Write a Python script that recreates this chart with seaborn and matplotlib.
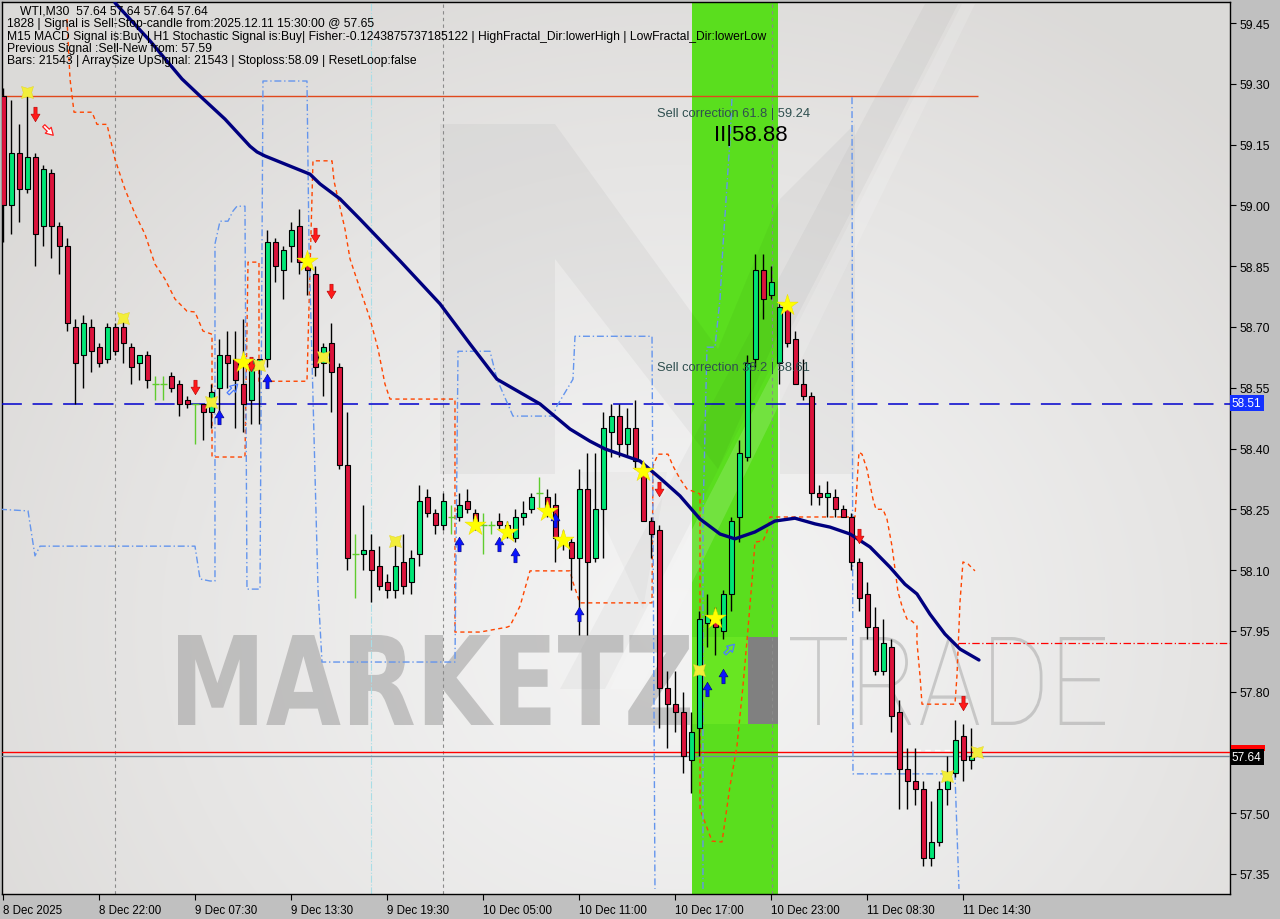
import numpy as np
import pandas as pd
import matplotlib
matplotlib.use("Agg")
import matplotlib.pyplot as plt
import seaborn as sns
from matplotlib.path import Path
from matplotlib.patches import Rectangle, Polygon, PathPatch
from matplotlib.textpath import TextPath
from matplotlib.font_manager import FontProperties
import matplotlib.transforms as mtransforms

# ---------------- data ----------------
opens = [59.27,59.00,59.13,59.04,59.12,58.95,59.08,58.95,58.90,58.70,
         58.63,58.70,58.65,58.62,58.70,58.70,58.65,58.61,58.63,58.56,
         58.56,58.58,58.56,58.52,58.51,58.51,58.49,58.55,58.63,58.62,
         58.56,58.52,58.61,58.62,58.91,58.84,58.90,58.95,58.86,58.83,
         58.61,58.66,58.60,58.36,58.14,58.14,58.15,58.11,58.07,58.05,
         58.12,58.07,58.14,58.28,58.24,58.21,58.23,58.23,58.27,58.24,
         58.21,58.21,58.22,58.21,58.18,58.23,58.25,58.29,58.28,58.26,
         58.18,58.17,58.13,58.30,58.13,58.25,58.44,58.48,58.41,58.45,
         58.35,58.22,58.20,57.81,57.77,57.75,57.63,57.71,57.97,57.98,
         57.95,58.04,58.23,58.38,58.62,58.84,58.78,58.61,58.75,58.67,
         58.56,58.53,58.29,58.28,58.28,58.25,58.23,58.12,58.04,57.96,
         57.85,57.91,57.75,57.61,57.58,57.56,57.39,57.43,57.56,57.60,
         57.69,57.63]
highs = [59.29,59.26,59.20,59.27,59.13,59.10,59.09,58.96,58.92,58.72,
         58.73,58.72,58.66,58.71,58.71,58.72,58.66,58.63,58.64,58.58,
         58.58,58.59,58.57,58.53,58.51,58.51,58.56,58.67,58.69,58.69,
         58.72,58.62,58.62,58.94,58.92,58.90,58.96,58.99,58.87,58.85,
         58.66,58.71,58.61,58.49,58.19,58.26,58.19,58.16,58.09,58.17,
         58.19,58.15,58.31,58.30,58.25,58.29,58.26,58.29,58.30,58.25,
         58.24,58.22,58.24,58.22,58.25,58.27,58.29,58.33,58.30,58.29,
         58.20,58.18,58.35,58.39,58.39,58.49,58.51,58.51,58.50,58.52,
         58.36,58.23,58.21,57.85,57.85,57.80,57.75,58.00,58.04,58.01,
         58.05,58.23,58.42,58.63,58.88,58.88,58.85,58.76,58.77,58.69,
         58.62,58.54,58.31,58.32,58.30,58.26,58.24,58.13,58.07,58.01,
         57.98,57.93,57.78,57.66,57.66,57.58,57.53,57.58,57.64,57.73,
         57.72,57.71]
lows = [58.91,58.93,58.96,59.03,58.85,58.90,58.87,58.83,58.69,58.51,
        58.55,58.59,58.60,58.61,58.63,58.61,58.56,58.57,58.55,58.52,
        58.52,58.54,58.48,58.50,58.41,58.42,58.45,58.48,58.55,58.45,
        58.44,58.46,58.46,58.60,58.81,58.77,58.86,58.83,58.78,58.58,
        58.53,58.49,58.35,58.10,58.03,58.10,58.02,58.05,58.03,58.03,
        58.04,58.04,58.11,58.23,58.19,58.20,58.19,58.22,58.24,58.20,
        58.14,58.19,58.20,58.18,58.17,58.21,58.24,58.25,58.23,58.12,
        58.15,58.05,57.94,57.94,58.12,58.13,58.38,58.38,58.38,58.35,
        58.22,58.13,57.71,57.66,57.70,57.60,57.55,57.64,57.91,57.89,
        57.93,58.00,58.17,58.37,58.60,58.72,58.77,58.56,58.65,58.56,
        58.52,58.26,58.26,58.23,58.23,58.23,58.10,58.00,57.93,57.84,
        57.84,57.70,57.51,57.51,57.52,57.37,57.37,57.42,57.52,57.59,
        57.58,57.61]
closes = [59.00,59.13,59.04,59.12,58.93,59.09,58.95,58.90,58.71,58.61,
          58.71,58.64,58.61,58.70,58.64,58.66,58.60,58.63,58.57,58.56,
          58.56,58.55,58.51,58.51,58.51,58.49,58.54,58.63,58.61,58.57,
          58.51,58.62,58.62,58.91,58.85,58.89,58.94,58.86,58.84,58.60,
          58.65,58.59,58.36,58.13,58.14,58.15,58.10,58.06,58.05,58.11,
          58.06,58.13,58.27,58.24,58.21,58.27,58.23,58.26,58.25,58.22,
          58.21,58.21,58.21,58.19,58.23,58.24,58.28,58.29,58.24,58.18,
          58.17,58.13,58.30,58.12,58.25,58.45,58.48,58.41,58.45,58.37,
          58.22,58.19,57.81,57.77,57.75,57.64,57.70,57.98,57.99,57.96,
          58.04,58.22,58.39,58.61,58.84,58.77,58.81,58.75,58.66,58.56,
          58.53,58.29,58.28,58.29,58.25,58.23,58.12,58.03,57.96,57.85,
          57.92,57.74,57.61,57.58,57.56,57.39,57.43,57.56,57.59,57.68,
          57.63,57.64]

time_labels = ["8 Dec 2025", "8 Dec 22:00", "9 Dec 07:30", "9 Dec 13:30", "9 Dec 19:30",
               "10 Dec 05:00", "10 Dec 11:00", "10 Dec 17:00", "10 Dec 23:00",
               "11 Dec 08:30", "11 Dec 14:30"]
time_label_bars = [0, 12, 24, 36, 48, 60, 72, 84, 96, 108, 120]
price_ticks = [57.35, 57.50, 57.65, 57.80, 57.95, 58.10, 58.25, 58.40, 58.55,
               58.70, 58.85, 59.00, 59.15, 59.30, 59.45]

ma_bars = [13.96, 18.34, 22.34, 24.59, 27.71, 30.84, 31.71, 32.71, 35.84, 38.34, 39.59,
           42.09, 44.59, 49.59, 54.59, 58.34, 61.71, 67.09, 70.84, 73.34, 75.21, 79.59,
           82.09, 84.59, 87.09, 89.59, 91.46, 93.96, 96.46, 98.96, 101.46, 103.34, 105.84,
           108.34, 110.84, 112.71, 114.21, 115.84, 117.71, 119.59, 121.96]
ma_vals = [59.50, 59.406, 59.312, 59.27, 59.213, 59.146, 59.132, 59.122, 59.097, 59.077, 59.053,
           59.016, 58.966, 58.863, 58.757, 58.658, 58.571, 58.51, 58.448, 58.418, 58.399, 58.369,
           58.327, 58.283, 58.226, 58.189, 58.177, 58.194, 58.221, 58.228, 58.214, 58.206, 58.189,
           58.157, 58.107, 58.065, 58.041, 57.991, 57.942, 57.905, 57.878]

upper_bars = [7.96, 8.34, 8.84, 11.09, 11.71, 12.96, 13.96, 15.21, 16.46, 17.71, 18.96, 20.21,
              21.46, 22.96, 23.96, 24.96, 26.09, 26.09, 30.21, 30.59, 31.96, 31.96, 37.96, 38.71,
              41.09, 41.34, 42.71, 43.34, 44.59, 45.84, 46.84, 47.71, 48.34, 56.46, 56.46, 59.59,
              62.96, 63.34, 64.59, 65.84, 70.84, 71.21, 71.84, 72.09, 81.09, 81.21, 81.84, 83.09,
              83.71, 84.59, 85.46, 87.09, 87.09, 88.59, 89.84, 90.84, 91.71, 92.46, 93.09, 93.71,
              93.96, 94.96, 95.46, 95.84, 106.46, 106.96, 107.34, 107.96, 108.71, 109.09, 109.96,
              110.46, 111.09, 111.84, 112.34, 112.96, 113.59, 114.21, 114.21, 114.59, 114.84,
              118.96, 119.21, 119.59, 119.96, 120.59, 121.46]
upper_vals = [59.46, 59.312, 59.23, 59.23, 59.20, 59.20, 59.114, 59.04, 58.979, 58.929, 58.855,
              58.818, 58.769, 58.739, 58.737, 58.69, 58.682, 58.379, 58.379, 58.86, 58.86, 58.566,
              58.566, 59.11, 59.11, 59.06, 58.942, 58.868, 58.794, 58.72, 58.646, 58.559, 58.522,
              58.522, 57.947, 57.947, 57.959, 57.962, 58.011, 58.098, 58.098, 58.07, 58.033, 58.019,
              58.019, 58.357, 58.386, 58.386, 58.357, 58.325, 58.30, 58.288, 57.51, 57.431, 57.429,
              57.567, 57.666, 57.814, 57.955, 58.103, 58.169, 58.172, 58.194, 58.231, 58.231, 58.391,
              58.386, 58.349, 58.275, 58.25, 58.25, 58.226, 58.159, 58.046, 58.011, 57.979, 57.974,
              57.962, 57.922, 57.839, 57.769, 57.769, 57.839, 58.021, 58.12, 58.115, 58.098]

lower1_bars = [-0.41, 3.09, 3.96, 4.59, 23.96, 24.59, 25.84, 26.46, 26.46, 27.09, 28.09, 28.71,
               29.21, 30.21, 30.46, 32.09, 32.46, 37.96, 38.21, 39.34, 39.84, 56.46, 56.84, 60.84,
               61.71, 63.71, 68.71, 69.21, 71.21, 71.46, 81.09, 81.46]
lower1_vals = [58.25, 58.246, 58.135, 58.159, 58.159, 58.078, 58.073, 58.073, 58.905, 58.961,
               58.961, 58.986, 58.998, 58.998, 58.053, 58.053, 59.307, 59.307, 58.905, 58.053,
               57.873, 57.873, 58.64, 58.64, 58.571, 58.48, 58.48, 58.505, 58.571, 58.677, 58.677,
               57.313]
lower2_bars = [87.46, 87.46, 87.96, 88.96, 89.59, 89.96, 90.46, 90.84, 91.09]
lower2_vals = [57.313, 58.226, 58.65, 58.65, 58.769, 58.90, 59.048, 59.164, 59.267]
lower3_bars = [106.09, 106.21, 118.96, 119.46]
lower3_vals = [59.267, 57.597, 57.597, 57.313]

sell_arrow_bars = [4, 24, 31, 39, 41, 82, 107, 120]
sell_arrow_prices = [59.225, 58.552, 58.608, 58.927, 58.789, 58.30, 58.184, 57.772]
buy_arrow_bars = [27, 33, 57, 62, 64, 69, 72, 88, 90]
buy_arrow_prices = [58.478, 58.567, 58.164, 58.164, 58.137, 58.223, 57.991, 57.806, 57.838]
star_bars = [30, 38, 59, 63, 68, 70, 80, 89, 98]
star_prices = [58.613, 58.863, 58.211, 58.194, 58.246, 58.174, 58.344, 57.982, 58.754]
cross_bars = [3, 15, 26, 32, 40, 49, 87, 118, 121.7]
cross_prices = [59.28, 58.722, 58.515, 58.606, 58.626, 58.172, 57.853, 57.592, 57.651]
hollow_sell_bars = [5.6]
hollow_sell_prices = [59.186]
hollow_buy_bars = [28.7, 90.8]
hollow_buy_prices = [58.547, 57.905]

level_bid = 57.64
level_signal = 57.65
level_blue = 58.51
level_top = 59.27
level_stop = 57.92
band_start, band_end = 86.1, 96.8
separator_bars = [13.96, 54.96, 96.09]
event_bar = 46.0

header_lines = [
    "WTI,M30  57.64 57.64 57.64 57.64",
    "1828 | Signal is Sell-Stop-candle from:2025.12.11 15:30:00 @ 57.65",
    "M15 MACD Signal is:Buy | H1 Stochastic Signal is:Buy| Fisher:-0.1243875737185122 | HighFractal_Dir:lowerHigh | LowFractal_Dir:lowerLow",
    "Previous Signal :Sell-New from: 57.59",
    "Bars: 21543 | ArraySize UpSignal: 21543 | Stoploss:58.09 | ResetLoop:false",
]

# ---------------- figure ----------------
sns.set_theme(style="white")
plt.rcParams["font.family"] = ["Liberation Sans", "DejaVu Sans"]

W, H = 1280, 920
fig = plt.figure(figsize=(12.8, 9.2), dpi=100)
fig.patch.set_facecolor("#c0c0c0")
ax = fig.add_axes([2 / W, 25 / H, 1228 / W, 892 / H])
XLIM = (-0.1625, 153.34)
YLIM = (57.3005, 59.502)

# top-left-origin pixel transform (display coords)
PIX = mtransforms.Affine2D().scale(1, -1).translate(0, H)

# background gradient
gy, gx = np.mgrid[0:1:200j, 0:1:200j]
d = np.sqrt(((gx - 0.55) / 0.65) ** 2 + ((gy - 0.30) / 0.80) ** 2)
t = np.clip(d, 0, 1) ** 1.3
c_in = np.array([0.955, 0.955, 0.955])
c_out = np.array([0.862, 0.855, 0.848])
img = c_in[None, None, :] * (1 - t[..., None]) + c_out[None, None, :] * t[..., None]
ax.imshow(img, extent=[0, 1, 0, 1], transform=ax.transAxes, origin="lower",
          aspect="auto", zorder=0, interpolation="bilinear")

# green band
ax.axvspan(band_start, band_end, color="#5ade1e", lw=0, zorder=1.2)

# watermark logo shapes (decoration)
def pix_poly(pts, color, alpha, z):
    p = Polygon(pts, closed=True, transform=PIX, fc=color, ec="none", alpha=alpha, zorder=z)
    ax.add_patch(p)

pix_poly([(440, 475), (440, 125), (555, 125), (718, 350), (780, 200), (855, 125),
          (855, 475), (780, 475), (780, 330), (718, 470), (555, 260), (555, 475)],
         "black", 0.035, 1.3)
pix_poly([(580, 473), (667, 473), (643, 610)], "black", 0.025, 1.3)
pix_poly([(560, 690), (605, 690), (958, 5), (925, 5)], "black", 0.03, 1.3)
pix_poly([(610, 690), (640, 690), (975, 5), (962, 5)], "white", 0.15, 1.3)

def fit_text(s, prop, x0, y0, x1, y1, color, alpha, z):
    tp = TextPath((0, 0), s, size=100, prop=prop)
    bb = tp.get_extents()
    tr = (mtransforms.Affine2D().translate(-bb.x0, -bb.y0)
          .scale((x1 - x0) / bb.width, (y1 - y0) / bb.height)
          .translate(x0, H - y1))
    ax.add_patch(PathPatch(tp, transform=tr, fc=color, ec="none", alpha=alpha, zorder=z))

fit_text("MARKETZ", FontProperties(family="DejaVu Sans", weight="bold"),
         178, 636, 690, 726, "#8c8c8c", 0.45, 1.4)
fit_text("TRADE", FontProperties(family="Roboto", weight="light"),
         790, 638, 1105, 726, "#9a9a9a", 0.45, 1.4)
ax.add_patch(Rectangle((692, 725), 56, -87, transform=PIX, fc="#68e622", ec="none", zorder=1.45))
ax.add_patch(Rectangle((748, 725), 30, -87, transform=PIX, fc="#808080", ec="none", zorder=1.45))

# separators / vertical lines
for b in separator_bars:
    ax.axvline(b, color="#8a8a8a", ls=(0, (3, 3)), lw=0.8, zorder=1.6)
ax.axvline(event_bar, color="#a9dde6", ls="-.", lw=0.8, zorder=1.6)

# horizontal levels
ax.axhline(level_blue, color="#0000cd", ls=(0, (13, 7)), lw=1.1, zorder=3)
ax.axhline(level_signal, color="#ff0000", lw=1.0, zorder=3)
ax.axhline(level_bid, color="#778899", lw=1.0, zorder=3)
ax.hlines(level_top, -1, 121.8, color="#e0481c", lw=1.0, zorder=3)
ax.hlines(level_stop, 119.3, 160, color="#ff0000", ls=(0, (6, 2, 1, 2)), lw=0.9, zorder=3)
ax.hlines(57.655, 114.0, 118.8, color="white", ls=(0, (4, 3)), lw=1.0, zorder=3)

# envelopes
ax.plot(upper_bars, upper_vals, color="#ff4500", ls=(0, (3, 2.5)), lw=1.0, zorder=3.2)
for bx, by in [(lower1_bars, lower1_vals), (lower2_bars, lower2_vals), (lower3_bars, lower3_vals)]:
    ax.plot(bx, by, color="#6495ed", ls=(0, (5, 2, 1, 2)), lw=1.0, zorder=3.2)

# candles
bull, bear, doji = "#00e676", "#dc143c", "#5fcc2e"
for i, (o, h, l, c) in enumerate(zip(opens, highs, lows, closes)):
    if o == c:
        ax.vlines(i, l, h, color=doji, lw=1.0, zorder=4)
        ax.hlines(c, i - 0.45, i + 0.45, color=doji, lw=1.0, zorder=4)
        continue
    ax.vlines(i, l, h, color="black", lw=1.0, zorder=4)
    ax.add_patch(Rectangle((i - 0.34, min(o, c)), 0.68, abs(c - o),
                           fc=bull if c > o else bear, ec="black", lw=0.8, zorder=5))

# moving average
ma_df = pd.DataFrame({"bar": ma_bars, "ma": ma_vals})
sns.lineplot(data=ma_df, x="bar", y="ma", ax=ax, color="#00007f", lw=2.4, sort=False, zorder=6)

# markers
down_arrow = Path([(-0.22, 1), (0.22, 1), (0.22, 0.05), (0.62, 0.05), (0, -1),
                   (-0.62, 0.05), (-0.22, 0.05), (-0.22, 1)], closed=True)
up_arrow = Path(down_arrow.vertices * np.array([1, -1]), closed=True)
ax.scatter(sell_arrow_bars, sell_arrow_prices, marker=down_arrow, s=110,
           c="#ff1a1a", edgecolors="#b00000", linewidths=0.4, zorder=7)
ax.scatter(buy_arrow_bars, buy_arrow_prices, marker=up_arrow, s=110,
           c="#0a14ff", edgecolors="#00007a", linewidths=0.4, zorder=7)
hs = Path(mtransforms.Affine2D().rotate_deg(45).transform(down_arrow.vertices), closed=True)
hb = Path(mtransforms.Affine2D().rotate_deg(-45).transform(up_arrow.vertices), closed=True)
ax.scatter(hollow_sell_bars, hollow_sell_prices, marker=hs, s=70, facecolors="white",
           edgecolors="#ff2020", linewidths=0.9, zorder=7)
ax.scatter(hollow_buy_bars, hollow_buy_prices, marker=hb, s=70, facecolors="none",
           edgecolors="#4a7bff", linewidths=0.9, zorder=7)
ax.scatter(star_bars, star_prices, marker="*", s=260, c="#ffff00",
           edgecolors="#e8d800", linewidths=0.3, zorder=7.5)
ax.scatter(cross_bars, cross_prices, marker=(4, 1, 45), s=150, c="#f2ee3a",
           edgecolors="#e0d020", linewidths=0.3, zorder=7.5)

# chart texts
ax.text(81.7, 59.229, "Sell correction 61.8 | 59.24", color="#2f4f4f", fontsize=9.3,
        va="center", ha="left", zorder=8)
ax.text(81.7, 58.60, "Sell correction 38.2 | 58.61", color="#2f4f4f", fontsize=9.3,
        va="center", ha="left", zorder=8)
ax.text(88.9, 59.176, "II|58.88", color="black", fontsize=16, va="center", ha="left", zorder=8)

# price boxes on the right axis
blend = mtransforms.blended_transform_factory(ax.transAxes, ax.transData)
ax.text(1.0015, 58.512, "58.51", transform=blend, color="white", fontsize=8.5, va="center",
        ha="left", clip_on=False, zorder=10,
        bbox=dict(boxstyle="square,pad=0.18", fc="#1432ff", ec="none"))
# red signal-price box, almost fully covered by the bid box in the reference
ax.add_patch(Rectangle((1.0008, 57.653), 0.0275, 0.016, transform=blend, fc="#ff0000",
                       ec="none", clip_on=False, zorder=9.5))
ax.text(1.0015, 57.638, "57.64", transform=blend, color="white", fontsize=8.5, va="center",
        ha="left", clip_on=False, zorder=11,
        bbox=dict(boxstyle="square,pad=0.18", fc="black", ec="none"))

# header texts
ys = [11, 24, 37, 49, 61]
xs = [20, 7, 7, 7, 7]
for s, x, y in zip(header_lines, xs, ys):
    fig.text(x / W, 1 - y / H, s, fontsize=8.7, color="black", va="center", ha="left", zorder=12)

# axes
ax.set_xlim(*XLIM)
ax.set_ylim(*YLIM)
ax.grid(False)
ax.set_xlabel("")
ax.set_ylabel("")
ax.yaxis.tick_right()
ax.set_yticks(price_ticks)
ax.set_yticklabels([f"{v:.2f}" if abs(v - 57.65) > 1e-6 else "" for v in price_ticks])
ax.set_xticks(time_label_bars)
ax.set_xticklabels(time_labels)
for lab in ax.get_xticklabels():
    lab.set_ha("left")
ax.tick_params(axis="y", which="both", right=True, left=False, labelright=True, labelleft=False,
               length=4, width=0.8, colors="black", labelsize=8.8, pad=3, direction="out")
ax.tick_params(axis="x", which="both", bottom=True, length=4, width=0.8, colors="black",
               labelsize=8.3, pad=3, direction="out")
for sp in ax.spines.values():
    sp.set_visible(True)
    sp.set_color("black")
    sp.set_linewidth(1.0)

fig.savefig("out.png", dpi=100, facecolor=fig.get_facecolor())
